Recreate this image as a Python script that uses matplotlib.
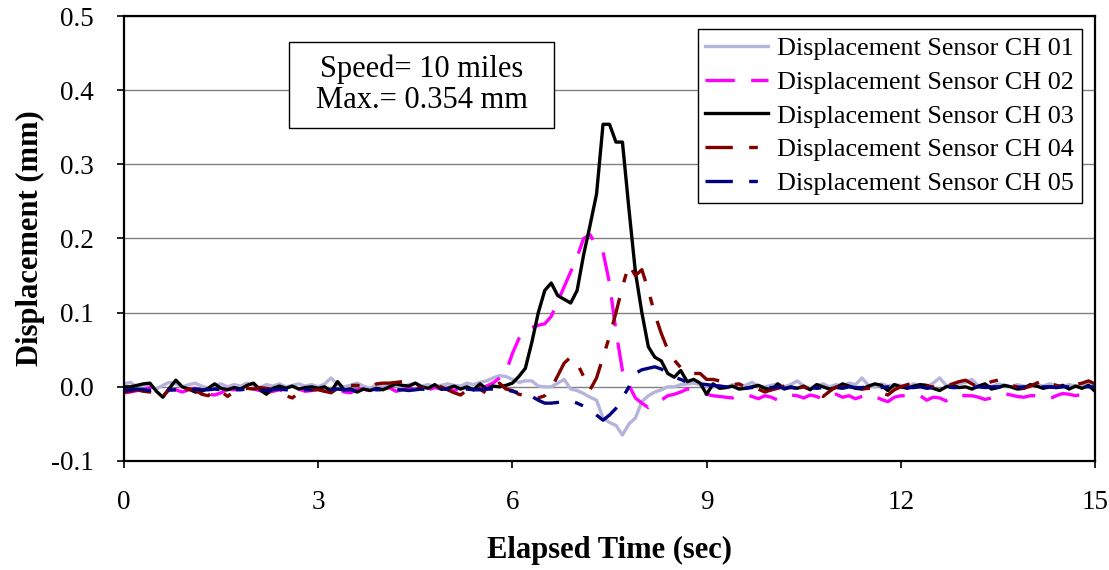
import matplotlib
matplotlib.use("Agg")
import matplotlib.pyplot as plt
from matplotlib.patches import Rectangle
import numpy as np

plt.rcParams['font.family'] = ['Liberation Serif', 'DejaVu Serif']

# sample times (s), 0.1 s step
time = np.round(np.arange(0, 151) * 0.1, 1)

ch01 = [
    0.004, 0.006, 0.000, 0.003, 0.001, -0.003, 0.002, 0.006, 0.004, 0.000,
    0.003, 0.005, 0.001, -0.002, 0.002, 0.004, 0.000, 0.003, 0.001, 0.005,
    0.002, -0.001, 0.003, 0.001, 0.004, 0.000, 0.002, 0.004, 0.001, 0.003,
    0.000, 0.004, 0.012, 0.003, 0.000, 0.002, 0.005, 0.001, -0.002, 0.003,
    0.001, 0.004, 0.002, 0.000, 0.003, 0.005, 0.001, 0.003, 0.000, 0.002,
    0.004, 0.002, 0.001, 0.005, 0.003, 0.006, 0.008, 0.012, 0.015, 0.014,
    0.010, 0.006, 0.008, 0.008, 0.001, 0.000, 0.000, 0.005, 0.010, -0.003,
    -0.005, -0.009, -0.014, -0.018, -0.042, -0.048, -0.052, -0.065, -0.050, -0.042,
    -0.020, -0.012, -0.007, -0.004, 0.000, 0.000, 0.003, 0.004, 0.005, 0.003,
    0.001, 0.000, 0.002, -0.001, 0.003, 0.000, 0.002, 0.006, 0.001, 0.000,
    0.002, 0.004, 0.000, 0.003, 0.008, 0.001, -0.002, 0.002, 0.004, 0.000,
    0.003, 0.001, 0.005, 0.003, 0.012, 0.002, 0.000, 0.004, 0.001, 0.003,
    0.002, 0.000, 0.004, 0.002, 0.000, 0.005, 0.012, 0.002, 0.000, 0.004,
    0.006, 0.010, 0.001, 0.003, 0.000, 0.004, 0.002, 0.000, 0.003, 0.001,
    0.000, 0.003, 0.001, 0.004, 0.002, 0.000, 0.003, 0.001, 0.002, 0.004,
    0.000,
]

ch02 = [
    -0.008, -0.007, -0.005, -0.004, -0.001, 0.002, -0.003, -0.005, -0.004, -0.007,
    -0.004, -0.002, -0.006, -0.010, -0.011, -0.008, -0.003, -0.004, -0.002, -0.006,
    -0.003, -0.005, -0.008, -0.006, -0.004, -0.007, -0.005, -0.003, -0.006, -0.005,
    -0.003, -0.006, -0.004, -0.002, -0.007, -0.008, -0.004, -0.003, -0.005, -0.006,
    -0.004, -0.001, -0.006, -0.004, -0.002, -0.003, -0.006, -0.004, -0.001, -0.003,
    -0.002, -0.005, -0.003, -0.001, -0.004, -0.002, 0.001, 0.005, 0.012, 0.020,
    0.045, 0.065, 0.075, 0.080, 0.083, 0.085, 0.095, 0.115, 0.135, 0.155,
    0.175, 0.200, 0.205, 0.190, 0.182, 0.140, 0.075, 0.022, 0.002, -0.015,
    -0.022, -0.028, -0.021, -0.018, -0.012, -0.010, -0.007, -0.003, -0.004, -0.008,
    -0.010, -0.012, -0.013, -0.014, -0.015, -0.012, -0.010, -0.013, -0.016, -0.012,
    -0.014, -0.018, -0.014, -0.011, -0.012, -0.015, -0.011, -0.013, -0.017, -0.013,
    -0.010, -0.014, -0.012, -0.016, -0.013, -0.010, -0.013, -0.017, -0.020, -0.014,
    -0.012, -0.012, -0.013, -0.012, -0.018, -0.014, -0.015, -0.019, -0.013, -0.011,
    -0.012, -0.012, -0.014, -0.017, -0.015, -0.011, -0.009, -0.011, -0.013, -0.014,
    -0.012, -0.012, -0.014, -0.016, -0.012, -0.009, -0.010, -0.012, -0.010, -0.008,
    0.002,
]

ch03 = [
    0.000, 0.000, 0.002, 0.004, 0.005, -0.006, -0.014, -0.002, 0.009, 0.000,
    -0.003, -0.007, -0.006, -0.002, 0.004, -0.002, -0.004, -0.001, -0.003, 0.002,
    0.005, -0.004, -0.010, -0.002, 0.001, -0.002, 0.001, -0.003, -0.001, 0.000,
    -0.002, 0.000, -0.006, 0.007, -0.004, -0.003, -0.007, -0.003, -0.005, -0.002,
    -0.004, 0.000, 0.004, 0.002, 0.001, 0.005, 0.000, -0.002, 0.003, -0.003,
    -0.002, 0.001, -0.003, 0.000, -0.004, 0.004, -0.003, 0.001, 0.000, 0.002,
    0.005, 0.014, 0.025, 0.060, 0.100, 0.130, 0.140, 0.123, 0.118, 0.113,
    0.130, 0.178, 0.218, 0.260, 0.354, 0.354, 0.330, 0.330, 0.240, 0.155,
    0.100, 0.054, 0.040, 0.035, 0.018, 0.013, 0.022, 0.007, 0.010, 0.005,
    -0.010, 0.004, -0.002, -0.001, 0.001, -0.003, -0.002, 0.000, 0.002, -0.002,
    -0.004, 0.004, -0.003, 0.000, -0.002, 0.001, -0.004, 0.003, 0.000, -0.003,
    -0.001, 0.004, 0.001, -0.002, -0.003, 0.001, 0.004, 0.002, -0.005, 0.003,
    0.000, -0.002, 0.001, 0.003, 0.002, -0.002, -0.005, 0.000, 0.002, -0.001,
    0.000, -0.003, 0.001, 0.004, -0.003, -0.001, 0.002, 0.000, -0.003, -0.002,
    0.003, 0.001, -0.002, 0.000, -0.001, 0.002, -0.003, 0.001, -0.002, 0.002,
    -0.006,
]

ch04 = [
    -0.007, -0.006, -0.004, -0.006, -0.007, -0.004, -0.013, -0.003, -0.002, -0.005,
    -0.003, -0.004, -0.010, -0.012, -0.004, -0.006, -0.013, -0.006, -0.004, -0.002,
    -0.003, -0.001, -0.002, -0.004, -0.008, -0.012, -0.015, -0.008, -0.005, -0.004,
    -0.004, -0.006, -0.008, -0.002, 0.003, 0.002, 0.002, 0.001, -0.001, 0.004,
    0.005, 0.005, 0.006, 0.007, 0.006, 0.002, -0.003, 0.004, 0.003, 0.000,
    -0.004, -0.008, -0.011, -0.004, 0.001, -0.003, -0.009, -0.002, 0.005, -0.003,
    -0.005, -0.010, -0.012, -0.015, -0.015, -0.012, -0.002, 0.015, 0.032, 0.040,
    0.032, 0.014, -0.004, 0.012, 0.040, 0.068, 0.100, 0.135, 0.165, 0.150,
    0.158, 0.130, 0.098, 0.072, 0.050, 0.036, 0.026, 0.018, 0.018, 0.018,
    0.010, 0.010, 0.008, 0.004, 0.003, 0.004, 0.000, -0.003, -0.003, -0.007,
    -0.004, -0.002, 0.001, 0.003, -0.002, 0.000, -0.004, -0.007, -0.013, -0.006,
    0.000, -0.001, 0.002, 0.001, -0.003, -0.002, -0.004, -0.008, -0.011, -0.004,
    0.000, 0.003, 0.005, 0.003, 0.001, 0.000, -0.002, 0.001, 0.004, 0.007,
    0.009, 0.004, -0.001, 0.003, 0.007, 0.009, 0.004, 0.002, 0.000, -0.002,
    0.001, 0.005, 0.009, 0.005, 0.002, 0.000, 0.001, 0.003, 0.005, 0.008,
    0.004,
]

ch05 = [
    -0.004, -0.004, -0.003, -0.004, -0.005, -0.004, -0.003, -0.004, -0.004, -0.005,
    -0.004, -0.003, -0.004, -0.004, -0.003, -0.004, -0.005, -0.004, -0.004, -0.003,
    -0.004, -0.004, -0.005, -0.004, -0.003, -0.004, -0.004, -0.003, -0.004, -0.004,
    -0.005, -0.004, -0.004, -0.003, -0.004, -0.004, -0.005, -0.004, -0.003, -0.004,
    -0.004, -0.003, -0.004, -0.004, -0.005, -0.004, -0.003, -0.004, -0.004, -0.003,
    -0.003, -0.004, -0.004, -0.003, -0.004, -0.004, -0.003, -0.003, -0.003, -0.004,
    -0.006, -0.008, -0.010, -0.013, -0.018, -0.022, -0.022, -0.021, -0.020, -0.019,
    -0.022, -0.026, -0.030, -0.038, -0.045, -0.038, -0.029, -0.015, 0.000, 0.018,
    0.023, 0.025, 0.027, 0.024, 0.018, 0.013, 0.010, 0.006, 0.005, 0.004,
    0.003, 0.002, 0.001, 0.000, -0.001, 0.000, -0.002, -0.001, 0.000, -0.002,
    -0.001, 0.000, -0.002, -0.001, -0.002, 0.000, -0.001, -0.002, -0.001, 0.000,
    -0.001, -0.002, 0.000, -0.001, -0.001, 0.000, -0.002, -0.001, 0.000, -0.001,
    0.000, -0.001, -0.001, 0.000, -0.002, -0.001, 0.000, 0.000, -0.001, -0.001,
    0.000, -0.001, 0.000, -0.001, 0.000, 0.000, -0.001, 0.000, -0.001, 0.000,
    0.000, -0.001, 0.000, 0.000, -0.001, 0.000, 0.000, -0.001, 0.000, 0.000,
    0.000,
]

labels = ['Displacement Sensor CH 01', 'Displacement Sensor CH 02',
          'Displacement Sensor CH 03', 'Displacement Sensor CH 04',
          'Displacement Sensor CH 05']
x_ticks = [0, 3, 6, 9, 12, 15]
y_ticks = [-0.1, 0.0, 0.1, 0.2, 0.3, 0.4, 0.5]

styles = [
    dict(color='#b4b4dc', linestyle='-'),
    dict(color='#ff00ff', linestyle=(0, (8.8, 4.9))),
    dict(color='#000000', linestyle='-'),
    dict(color='#800000', linestyle=(0, (8.2, 4.9, 2.6, 4.9))),
    dict(color='#000080', linestyle=(0, (8.2, 4.9, 2.6, 4.9))),
]

fig = plt.figure(figsize=(11.09, 5.70), dpi=100)
ax = fig.add_axes([124 / 1109, 1 - 461 / 570, 971 / 1109, 445 / 570])

for series, label, st in zip([ch01, ch02, ch03, ch04, ch05], labels, styles):
    ax.plot(time, series, label=label, linewidth=2.4, **st)

ax.set_xlim(0, 15)
ax.set_ylim(-0.1, 0.5)
ax.set_xticks(x_ticks)
ax.set_yticks(y_ticks)
ax.set_yticklabels(['%.1f' % v for v in y_ticks])
ax.yaxis.grid(True, color='#808080', linewidth=1.0)
ax.set_axisbelow(True)
for s in ax.spines.values():
    s.set_linewidth(1.6)
    s.set_color('black')
ax.tick_params(axis='x', direction='out', length=5, width=1.2, labelsize=19.5, pad=16)
ax.tick_params(axis='y', direction='out', length=5, width=1.2, labelsize=19.5, pad=17)

ax.set_xlabel('Elapsed Time (sec)', fontsize=22, fontweight='bold', labelpad=15)
ax.set_ylabel('Displacement (mm)', fontsize=22, fontweight='bold', labelpad=4)

# annotation box
ax.add_patch(Rectangle((0.170, 0.748), 0.273, 0.194, transform=ax.transAxes,
                       facecolor='white', edgecolor='black', linewidth=1.0, zorder=4))
ax.text(0.3065, 0.845, 'Speed= 10 miles\nMax.= 0.354 mm', transform=ax.transAxes,
        fontsize=22, ha='center', va='center', linespacing=1.1, zorder=5)

leg = ax.legend(loc='upper right', fontsize=18.8, frameon=True, fancybox=False,
                edgecolor='black', framealpha=1, handlelength=2.4, handletextpad=0.35,
                labelspacing=0.4, borderpad=0.3, borderaxespad=0.5)
leg.get_frame().set_linewidth(1.0)

fig.savefig('out.png', dpi=100)
